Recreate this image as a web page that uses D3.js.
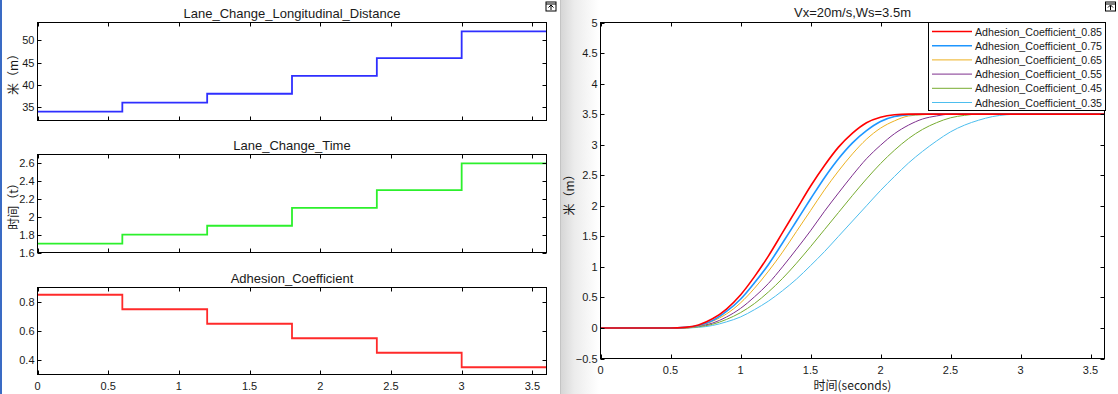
<!DOCTYPE html>
<html>
<head>
<meta charset="utf-8">
<script src="https://cdn.jsdelivr.net/npm/d3@7"></script>
<style>
body{margin:0;background:#fff;}
text{font-family:"Liberation Sans",Arial,sans-serif;fill:#1a1a1a;}
.cjk{font-family:"Noto Sans CJK SC","Liberation Sans",sans-serif;}
</style>
</head>
<body>
<script>
// step data for the three left scopes
var stepTime = [0, 0.6, 1.2, 1.8, 2.4, 3.0, 3.6];
var distance = [34, 36, 38, 42, 46, 52];
var laneTime = [1.7, 1.8, 1.9, 2.1, 2.3, 2.6];
var adhesion = [0.85, 0.75, 0.65, 0.55, 0.45, 0.35];

// lateral displacement curves (right plot)
var curveTime = [0, 0.5, 0.6, 0.7, 0.8, 0.9, 1.0, 1.1, 1.2, 1.3, 1.4, 1.5, 1.6, 1.7, 1.8, 1.9, 2.0, 2.1, 2.2, 2.3, 2.4, 2.5, 2.6, 2.7, 2.8, 2.9, 3.0, 3.1, 3.6];
var y085 = [0, 0, 0.01, 0.05, 0.15, 0.31, 0.54, 0.84, 1.18, 1.56, 1.94, 2.32, 2.66, 2.96, 3.19, 3.36, 3.45, 3.49, 3.5, 3.5, 3.5, 3.5, 3.5, 3.5, 3.5, 3.5, 3.5, 3.5, 3.5];
var y075 = [0, 0, 0.01, 0.04, 0.12, 0.27, 0.47, 0.74, 1.04, 1.39, 1.75, 2.11, 2.46, 2.77, 3.03, 3.23, 3.38, 3.46, 3.49, 3.5, 3.5, 3.5, 3.5, 3.5, 3.5, 3.5, 3.5, 3.5, 3.5];
var y065 = [0, 0, 0.00, 0.03, 0.11, 0.23, 0.41, 0.65, 0.93, 1.24, 1.58, 1.92, 2.26, 2.57, 2.85, 3.09, 3.27, 3.39, 3.47, 3.49, 3.5, 3.5, 3.5, 3.5, 3.5, 3.5, 3.5, 3.5, 3.5];
var y055 = [0, 0, 0.00, 0.03, 0.08, 0.18, 0.32, 0.51, 0.73, 1.00, 1.29, 1.59, 1.91, 2.21, 2.50, 2.77, 2.99, 3.18, 3.32, 3.42, 3.47, 3.5, 3.5, 3.5, 3.5, 3.5, 3.5, 3.5, 3.5];
var y045 = [0, 0, 0.00, 0.02, 0.06, 0.14, 0.25, 0.40, 0.59, 0.81, 1.06, 1.33, 1.61, 1.89, 2.17, 2.44, 2.69, 2.91, 3.10, 3.25, 3.36, 3.44, 3.48, 3.5, 3.5, 3.5, 3.5, 3.5, 3.5];
var y035 = [0, 0, 0.00, 0.01, 0.04, 0.10, 0.18, 0.30, 0.44, 0.61, 0.80, 1.02, 1.25, 1.50, 1.75, 2.00, 2.25, 2.48, 2.70, 2.89, 3.06, 3.21, 3.32, 3.40, 3.46, 3.49, 3.5, 3.5, 3.5];
var seriesNames = ["Adhesion_Coefficient_0.85", "Adhesion_Coefficient_0.75", "Adhesion_Coefficient_0.65",
                   "Adhesion_Coefficient_0.55", "Adhesion_Coefficient_0.45", "Adhesion_Coefficient_0.35"];
var seriesValues = [y085, y075, y065, y055, y045, y035];
var seriesColors = ["#ff0000", "#1e96ff", "#edb120", "#7e2f8e", "#77ac30", "#4dbeee"];
var seriesWidths = [1.6, 1.6, 1, 1, 1, 1];

var svg = d3.select("body").append("svg")
			.attr("width", 1118)
			.attr("height", 394);

// window decorations
var defs = svg.append("defs");
var grad = defs.append("linearGradient").attr("id", "sep").attr("x1", 0).attr("x2", 1);
grad.append("stop").attr("offset", 0).attr("stop-color", "#d6d6d6");
grad.append("stop").attr("offset", 0.35).attr("stop-color", "#ececec");
grad.append("stop").attr("offset", 1).attr("stop-color", "#ffffff");
svg.append("rect").attr("x", 561).attr("y", 0).attr("width", 38).attr("height", 394).attr("fill", "url(#sep)");
svg.append("line").attr("x1", 560.5).attr("x2", 560.5).attr("y1", 0).attr("y2", 394).attr("stroke", "#c4c4c4");
svg.append("rect").attr("x", 0).attr("y", 0).attr("width", 2).attr("height", 394).attr("fill", "#3a6bc4");

var drawIcon = function(x, y){
	var g = svg.append("g").attr("transform", "translate(" + x + "," + y + ")");
	g.append("rect").attr("x", 0.5).attr("y", 0.5).attr("width", 10).attr("height", 9)
		.attr("fill", "#fff").attr("stroke", "#000");
	g.append("line").attr("x1", 0.5).attr("x2", 10.5).attr("y1", 2.5).attr("y2", 2.5).attr("stroke", "#000");
	g.append("path").attr("d", "M3,6L5.5,3.5L8,6M5.5,4V8.5").attr("fill", "none").attr("stroke", "#000");
};
drawIcon(545.5, 1.5);
drawIcon(1105, 1.5);

// generic framed axes, MATLAB style (ticks inside, box on)
var drawFrame = function(g, x, y, xTicks, yTicks, showX, yFmt){
	var x0 = x.range()[0], x1 = x.range()[1];
	var y0 = y.range()[0], y1 = y.range()[1];
	var tl = 4;
	xTicks.forEach(function(t){
		var px = Math.round(x(t)) + 0.5;
		g.append("line").attr("x1", px).attr("x2", px).attr("y1", y0).attr("y2", y0 - tl).attr("stroke", "#000");
		g.append("line").attr("x1", px).attr("x2", px).attr("y1", y1).attr("y2", y1 + tl).attr("stroke", "#000");
		if(showX){
			g.append("text").text(d3.format("~g")(t))
				.attr("x", x(t)).attr("y", y0 + 15)
				.attr("text-anchor", "middle").attr("font-size", 11);
		}
	});
	yTicks.forEach(function(t){
		var py = Math.round(y(t)) + 0.5;
		g.append("line").attr("x1", x0).attr("x2", x0 + tl).attr("y1", py).attr("y2", py).attr("stroke", "#000");
		g.append("line").attr("x1", x1).attr("x2", x1 - tl).attr("y1", py).attr("y2", py).attr("stroke", "#000");
		g.append("text").text(yFmt(t))
			.attr("x", x0 - 3).attr("y", y(t) + 4)
			.attr("text-anchor", "end").attr("font-size", 11);
	});
	g.append("rect").attr("x", x0).attr("y", y1).attr("width", x1 - x0).attr("height", y0 - y1)
		.attr("fill", "none").attr("stroke", "#000");
};

// left scopes
var xLeft = d3.scaleLinear().domain([0, 3.6]).range([37.5, 546.5]);
var xTickVals = d3.range(0, 3.51, 0.5);
var panels = [
	{title: "Lane_Change_Longitudinal_Distance", vals: distance, dom: [32, 54], rng: [120.5, 22.5], ticks: [35, 40, 45, 50], color: "#2f2fff", label: "米（m）", fmt: d3.format("d")},
	{title: "Lane_Change_Time", vals: laneTime, dom: [1.6, 2.7], rng: [252.5, 154.5], ticks: [1.6, 1.8, 2, 2.2, 2.4, 2.6], color: "#2cf02c", label: "时间（t）", fmt: d3.format("~g")},
	{title: "Adhesion_Coefficient", vals: adhesion, dom: [0.3, 0.9], rng: [374.5, 287.5], ticks: [0.4, 0.6, 0.8], color: "#ff2a2a", label: null, fmt: d3.format(".1f")}
];

panels.forEach(function(p, i){
	var g = svg.append("g");
	var y = d3.scaleLinear().domain(p.dom).range(p.rng);
	var pts = stepTime.map(function(t, j){ return [t, p.vals[Math.min(j, p.vals.length - 1)]]; });
	var line = d3.line().x(function(d){ return xLeft(d[0]); }).y(function(d){ return y(d[1]); })
		.curve(d3.curveStepAfter);
	g.append("path").datum(pts).attr("d", line)
		.attr("fill", "none").attr("stroke", p.color).attr("stroke-width", 1.8);
	drawFrame(g, xLeft, y, xTickVals, p.ticks, i === 2, p.fmt);
	g.append("text").text(p.title)
		.attr("x", (xLeft.range()[0] + xLeft.range()[1]) / 2)
		.attr("y", p.rng[1] - 5)
		.attr("text-anchor", "middle").attr("font-size", 13);
	if(p.label){
		var cy = (p.rng[0] + p.rng[1]) / 2;
		g.append("text").text(p.label).attr("class", "cjk")
			.attr("transform", "translate(18," + cy + ") rotate(-90)")
			.attr("text-anchor", "middle").attr("font-size", 12);
	}
});

// right plot
var xR = d3.scaleLinear().domain([0, 3.6]).range([600.5, 1104.5]);
var yR = d3.scaleLinear().domain([-0.5, 5]).range([358.5, 22.5]);
var gR = svg.append("g");
var lineR = d3.line()
	.x(function(d, i){ return xR(curveTime[i]); })
	.y(function(d){ return yR(d); })
	.curve(d3.curveMonotoneX);

for(var s = seriesValues.length - 1; s >= 0; s--){
	gR.append("path").datum(seriesValues[s]).attr("d", lineR)
		.attr("fill", "none").attr("stroke", seriesColors[s]).attr("stroke-width", seriesWidths[s]);
}
drawFrame(gR, xR, yR, xTickVals, d3.range(-0.5, 5.01, 0.5), true, d3.format("~g"));

gR.append("text").text("Vx=20m/s,Ws=3.5m")
	.attr("x", (600.5 + 1104.5) / 2).attr("y", 17)
	.attr("text-anchor", "middle").attr("font-size", 13);
gR.append("text").attr("class", "cjk")
	.attr("x", (600.5 + 1104.5) / 2).attr("y", 390)
	.attr("text-anchor", "middle").attr("font-size", 12)
	.text("时间(seconds)");
gR.append("text").text("米（m）").attr("class", "cjk")
	.attr("transform", "translate(574,192) rotate(-90)")
	.attr("text-anchor", "middle").attr("font-size", 12);

// legend
var legend = gR.append("g");
legend.append("rect").attr("x", 928.5).attr("y", 22.5).attr("width", 177).attr("height", 88)
	.attr("fill", "#fff").attr("stroke", "#000");
seriesNames.forEach(function(name, i){
	var ly = 31.5 + i * 14.2;
	legend.append("line").attr("x1", 932).attr("x2", 972).attr("y1", ly).attr("y2", ly)
		.attr("stroke", seriesColors[i]).attr("stroke-width", seriesWidths[i]);
	legend.append("text").text(name).attr("x", 975).attr("y", ly + 4)
		.attr("font-size", 10.5).attr("textLength", 127).attr("lengthAdjust", "spacingAndGlyphs");
});
</script>
</body>
</html>
